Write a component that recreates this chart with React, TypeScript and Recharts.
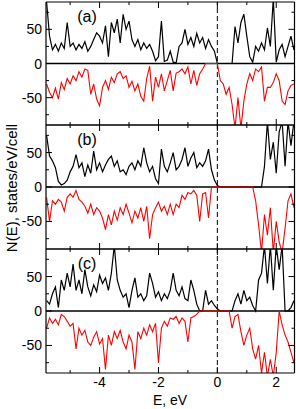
import { LineChart, Line, XAxis, YAxis, ReferenceLine } from 'recharts';

// energy grid, eV
const energy = [
  -5.8, -5.7, -5.6, -5.5, -5.4, -5.3, -5.2, -5.1, -5.0, -4.9, -4.8, -4.7, -4.6, -4.5, -4.4,
  -4.3, -4.2, -4.1, -4.0, -3.9, -3.8, -3.7, -3.6, -3.5, -3.4, -3.3, -3.2, -3.1, -3.0, -2.9,
  -2.8, -2.7, -2.6, -2.5, -2.4, -2.3, -2.2, -2.1, -2.0, -1.9, -1.8, -1.7, -1.6, -1.5, -1.4,
  -1.3, -1.2, -1.1, -1.0, -0.9, -0.8, -0.7, -0.6, -0.5, -0.4, -0.3, -0.2, -0.1, 0.0, 0.1,
  0.2, 0.3, 0.4, 0.5, 0.6, 0.7, 0.8, 0.9, 1.0, 1.1, 1.2, 1.3, 1.4, 1.5, 1.6,
  1.7, 1.8, 1.9, 2.0, 2.1, 2.2, 2.3, 2.4, 2.5, 2.6,
];

// panel (a)
const upA = [
  90, 40, 20, 28, 18, 30, 22, 60, 25, 30, 20, 28, 22, 32, 18, 25, 35, 45, 40, 30, 55, 10,
  60, 45, 65, 30, 72, 50, 62, 35, 25, 35, 20, 30, 22, 28, 18, 4, 10, 62, 3, 5, 18,
  2, 1, 25, 30, 50, 28, 38, 25, 44, 30, 38, 22, 35, 25, 18, 0, 0, 0, 0, 0, 0,
  54, 30, 60, 72, 40, 10, 2, 25, 18, 30, 20, 52, 25, 95, 2, 20, 28, 10, 25, 40, 20,
];
const downA = [
  -30, -42, -50, -36, -52, -28, -38, -22, -30, -18, -25, -12, -20, -8, -10, -45, -30, -52,
  -62, -35, -25, -38, -20, -28, -15, -12, -22, -18, -35, -26, -40, -30, -48, -55, -22, -4,
  -55, -20, -35, -15, -40, -25, -10,
  -40, -14, -12, -8, -15, -5, -30, -10, -32, -15, -8, 0, 0, 0, 0, 0, -25, -30, -45, -35,
  -60, -95, -50, -95, -55, -30, -15, -25, -8, -12, -5, -55, -35, -35, -28, -15, -25, -55,
  -60, -40, -32, -30,
];

// panel (b)
const upB = [
  75, 45, 38, 28, 8, 3, 5, 10, 22, 30, 47, 28, 35, 15, 32, 20, 52, 25, 35, 22, 32, 40,
  45, 30, 38, 22, 25, 18, 30, 35, 25, 38, 30, 57, 35, 22, 30, 12, 5, 55, 30, 22, 35,
  50, 25, 30, 40, 57, 30, 42, 50, 28, 35, 30, 38, 55, 25, 10, 2,
  0, 0, 0, 0, 0, 0, 0, 0, 0, 0, 0, 0, 0, 0, 0,
  30, 95, 40, 65, 20, 80, 95, 30, 95, 60, 95,
];
const downB = [
  -15, -50, -20, -25, -18, -22, -35, -15, -10, -15, -5, -18, -22, -28, -38, -25, -40, -30,
  -35, -45, -62, -40, -55, -35, -48, -30, -40, -25, -38, -52, -35, -45, -30, -50, -28, -75,
  -40, -30, -22, -35, -28, -40, -25,
  -40, -25, -30, -12, -18, -8, -10, -5, -12, -50, -10, -8, -45,
  0, 0, 0, 0, 0, 0, 0, 0, 0, 0, 0, 0, 0, 0, 0,
  -20, -55, -95, -40, -70, -30, -95, -50, -80, -95, -60, -20, -10, -30,
];

// panel (c)
const upC = [
  15, 10, 25, 35, 5, 45, 30, 55, 35, 68, 30, 45, 25, 60, 35, 22, 38, 28, 52, 40, 48, 30,
  55, 95, 45, 30, 20, 25, 5, 30, 48, 20, 25, 15, 22, 55, 40, 20, 28, 15, 25, 18, 30,
  55, 30, 22, 35, 18, 15, 45, 30, 10, 0, 0, 30, 10, 15, 8, 3,
  0, 0, 0, 0, 0,
  15, 25, 10, 30, 15, 20, 8, 0, 45, 55, 95, 40, 95, 30, 95, 60, 95, 0, 0, 5, 15,
];
const downC = [
  -25, -10, -18, -12, -20, -5, -8, -15, -22, -18, -55, -25, -35, -28, -45, -50, -38, -30,
  -48, -40, -85, -35, -50, -30, -40, -28, -45, -55, -35, -45, -85, -30, -40, -25, -35, -20,
  -30, -18, -75, -25, -15, -22, -10,
  -12, -8, -18, -10, -15, -45, -10, -8, -5,
  0, 0, 0, 0, 0, 0, 0, 0, 0, 0, 0,
  -25, -8, -5, -30, -50, -35, -25, -55, -70, -50, -90, -60, -95, -70, -95, -60, 0, -20,
  -35, -45, -60, -75,
];

const panelNames = ['(a)', '(b)', '(c)'];
const xTicks = [-5, -4, -3, -2, -1, 0, 1, 2];
const yTicks = [-75, -50, -25, 0, 25, 50, 75];

const W = 296;
const H = 409;
const PLOT_LEFT = 46;
const PLOT_RIGHT = 294.5;
const panelTops = [2, 125, 249];
const panelBottoms = [125, 249, 373];
const FONT = '"Liberation Sans", Arial, Helvetica, sans-serif';
const frame = { stroke: '#000', strokeWidth: 1.2 };

const BottomTick = (props: any) => {
  const { x, y, payload, showLabel } = props;
  const major = payload.value % 2 === 0;
  return (
    <g>
      <line x1={x} x2={x} y1={y} y2={y - (major ? 6 : 3)} stroke="#000" strokeWidth={1} />
      {showLabel && major && (
        <text x={x} y={y + 14} textAnchor="middle" fontSize={14} fontFamily={FONT} fill="#000">
          {payload.value}
        </text>
      )}
    </g>
  );
};

const TopTick = (props: any) => {
  const { x, y, payload } = props;
  const major = payload.value % 2 === 0;
  return <line x1={x} x2={x} y1={y} y2={y + (major ? 6 : 3)} stroke="#000" strokeWidth={1} />;
};

const LeftTick = (props: any) => {
  const { x, y, payload } = props;
  const v = payload.value;
  const major = v % 50 === 0;
  return (
    <g>
      <line x1={x} x2={x + (major ? 6 : 3)} y1={y} y2={y} stroke="#000" strokeWidth={1} />
      {major && (
        <text x={x - 4} y={y} dy="0.36em" textAnchor="end" fontSize={14} fontFamily={FONT} fill="#000">
          {v}
        </text>
      )}
    </g>
  );
};

const RightTick = (props: any) => {
  const { x, y, payload } = props;
  const major = payload.value % 50 === 0;
  return <line x1={x} x2={x - (major ? 6 : 3)} y1={y} y2={y} stroke="#000" strokeWidth={1} />;
};

function Panel({ up, down, index }: { up: number[]; down: number[]; index: number }) {
  const rows = energy.map((e, i) => ({ e, up: up[i], down: down[i] }));
  const last = index === 2;
  // axes are 1px thick so that the plot area is set by the margins
  return (
    <div style={{ position: 'absolute', left: 0, top: 0, width: W, height: H }}>
      <LineChart
        width={W}
        height={H}
        data={rows}
        margin={{
          top: panelTops[index] - 1,
          bottom: H - panelBottoms[index] - 1,
          left: PLOT_LEFT - 1,
          right: W - PLOT_RIGHT - 1,
        }}
      >
        <XAxis
          dataKey="e"
          type="number"
          domain={[-5.82, 2.62]}
          allowDataOverflow
          ticks={xTicks}
          interval={0}
          height={1}
          tickSize={0}
          tickMargin={0}
          tickLine={false}
          axisLine={frame}
          tick={(p: any) => <BottomTick {...p} showLabel={last} />}
        />
        <XAxis
          xAxisId="top"
          orientation="top"
          dataKey="e"
          type="number"
          domain={[-5.82, 2.62]}
          allowDataOverflow
          ticks={xTicks}
          interval={0}
          height={1}
          tickSize={0}
          tickMargin={0}
          tickLine={false}
          axisLine={frame}
          tick={TopTick}
        />
        <YAxis
          type="number"
          domain={[-90, 90]}
          allowDataOverflow
          ticks={yTicks}
          interval={0}
          width={1}
          tickSize={0}
          tickMargin={0}
          tickLine={false}
          axisLine={frame}
          tick={LeftTick}
        />
        <YAxis
          yAxisId="right"
          orientation="right"
          type="number"
          domain={[-90, 90]}
          allowDataOverflow
          ticks={yTicks}
          interval={0}
          width={1}
          tickSize={0}
          tickMargin={0}
          tickLine={false}
          axisLine={frame}
          tick={RightTick}
        />
        <ReferenceLine y={0} stroke="#000" strokeWidth={1.4} />
        <ReferenceLine x={0} stroke="#000" strokeWidth={1} strokeDasharray="5 3" />
        <Line dataKey="up" stroke="#000" strokeWidth={1.2} dot={false} isAnimationActive={false} />
        <Line dataKey="down" stroke="#ff0000" strokeWidth={1.1} dot={false} isAnimationActive={false} />
      </LineChart>
    </div>
  );
}

export default function App() {
  return (
    <div style={{ position: 'absolute', left: 0, top: 0, width: W, height: H, background: '#fff' }}>
      <Panel up={upA} down={downA} index={0} />
      <Panel up={upB} down={downB} index={1} />
      <Panel up={upC} down={downC} index={2} />
      <svg width={W} height={H} style={{ position: 'absolute', left: 0, top: 0, pointerEvents: 'none' }}>
        {panelNames.map((name, i) => (
          <text key={name} x={87} y={panelTops[i] + 20} textAnchor="middle" fontSize={16} fontFamily={FONT} fill="#000">
            {name}
          </text>
        ))}
        <text x={170} y={405} textAnchor="middle" fontSize={14} fontFamily={FONT} fill="#000">
          E, eV
        </text>
        <text
          transform="translate(17,188) rotate(-90)"
          textAnchor="middle"
          fontSize={15}
          fontFamily={FONT}
          fill="#000"
        >
          N(E), states/eV/cell
        </text>
      </svg>
    </div>
  );
}
